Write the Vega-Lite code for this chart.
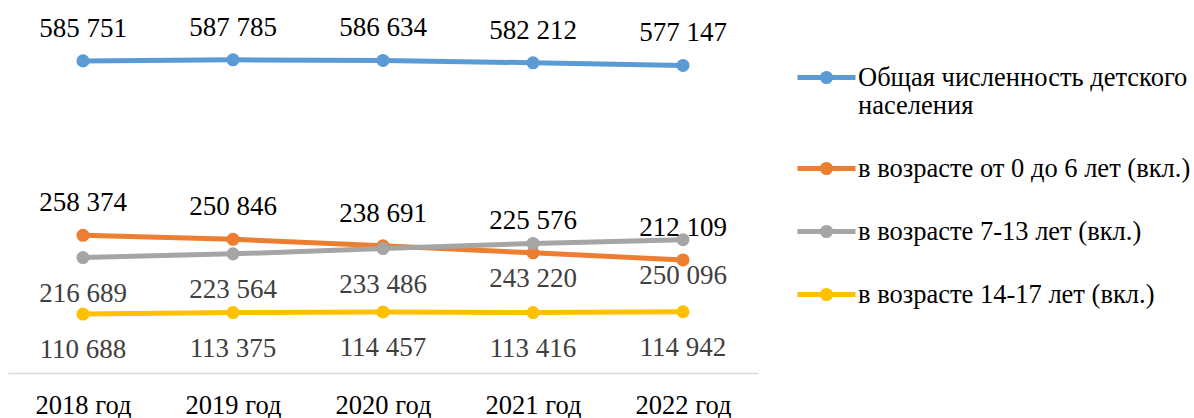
{
  "$schema": "https://vega.github.io/schema/vega-lite/v6.json",
  "width": 750,
  "height": 373,
  "autosize": {"type": "none"},
  "padding": {"left": 8, "top": 0, "right": 436, "bottom": 45},
  "config": {
    "view": {"stroke": null},
    "locale": {"number": {"decimal": ",", "thousands": " ", "grouping": [3], "currency": ["", ""]}}
  },
  "data": {
    "values": [
      {"year": "2018 год", "series": "Общая численность детского населения", "value": 585751},
      {"year": "2019 год", "series": "Общая численность детского населения", "value": 587785},
      {"year": "2020 год", "series": "Общая численность детского населения", "value": 586634},
      {"year": "2021 год", "series": "Общая численность детского населения", "value": 582212},
      {"year": "2022 год", "series": "Общая численность детского населения", "value": 577147},
      {"year": "2018 год", "series": "в возрасте от 0 до 6 лет (вкл.)", "value": 258374},
      {"year": "2019 год", "series": "в возрасте от 0 до 6 лет (вкл.)", "value": 250846},
      {"year": "2020 год", "series": "в возрасте от 0 до 6 лет (вкл.)", "value": 238691},
      {"year": "2021 год", "series": "в возрасте от 0 до 6 лет (вкл.)", "value": 225576},
      {"year": "2022 год", "series": "в возрасте от 0 до 6 лет (вкл.)", "value": 212109},
      {"year": "2018 год", "series": "в возрасте 7-13 лет (вкл.)", "value": 216689},
      {"year": "2019 год", "series": "в возрасте 7-13 лет (вкл.)", "value": 223564},
      {"year": "2020 год", "series": "в возрасте 7-13 лет (вкл.)", "value": 233486},
      {"year": "2021 год", "series": "в возрасте 7-13 лет (вкл.)", "value": 243220},
      {"year": "2022 год", "series": "в возрасте 7-13 лет (вкл.)", "value": 250096},
      {"year": "2018 год", "series": "в возрасте 14-17 лет (вкл.)", "value": 110688},
      {"year": "2019 год", "series": "в возрасте 14-17 лет (вкл.)", "value": 113375},
      {"year": "2020 год", "series": "в возрасте 14-17 лет (вкл.)", "value": 114457},
      {"year": "2021 год", "series": "в возрасте 14-17 лет (вкл.)", "value": 113416},
      {"year": "2022 год", "series": "в возрасте 14-17 лет (вкл.)", "value": 114942}
    ]
  },
  "encoding": {
    "x": {
      "field": "year", "type": "ordinal",
      "scale": {"type": "point", "padding": 0.5},
      "axis": {
        "title": null, "labelAngle": 0, "ticks": false,
        "domainColor": "#d9d9d9", "domainWidth": 1.5,
        "labelFont": "Liberation Serif", "labelFontSize": 26.5, "labelColor": "#000000",
        "labelPadding": 19
      }
    },
    "y": {
      "field": "value", "type": "quantitative",
      "scale": {"domain": [0, 700000], "nice": false},
      "axis": null
    }
  },
  "layer": [
    {
      "mark": {"type": "line", "strokeWidth": 5},
      "encoding": {
        "color": {
          "field": "series", "type": "nominal",
          "scale": {
            "domain": ["Общая численность детского населения", "в возрасте от 0 до 6 лет (вкл.)", "в возрасте 7-13 лет (вкл.)", "в возрасте 14-17 лет (вкл.)"],
            "range": ["#5B9BD5", "#ED7D31", "#A5A5A5", "#FFC000"]
          },
          "legend": {
            "title": null,
            "orient": "none",
            "legendX": 787,
            "legendY": 46,
            "symbolType": "M-1,0L1,0M-0.14,0A0.14,0.14,0,1,1,0.14,0A0.14,0.14,0,1,1,-0.14,0Z",
            "symbolSize": 3364,
            "symbolStrokeWidth": 5,
            "symbolOffset": 0,
            "labelOffset": 0,
            "labelFont": "Liberation Serif",
            "labelFontSize": 26.5,
            "labelColor": "#000000",
            "labelLimit": 400,
            "rowPadding": 17,
            "labelExpr": "datum.label === 'Общая численность детского населения' ? ['Общая численность детского', 'населения'] : datum.label"
          }
        },
        "detail": {"field": "series"}
      }
    },
    {
      "mark": {"type": "point", "filled": true, "size": 170, "opacity": 1},
      "encoding": {
        "color": {"field": "series", "type": "nominal", "legend": null}
      }
    },
    {
      "transform": [{"filter": "datum.series === 'Общая численность детского населения' || datum.series === 'в возрасте от 0 до 6 лет (вкл.)'"}],
      "mark": {"type": "text", "font": "Liberation Serif", "fontSize": 27, "color": "#000000", "dy": -24, "baseline": "alphabetic"},
      "encoding": {"text": {"field": "value", "type": "quantitative", "format": ",d"}}
    },
    {
      "transform": [{"filter": "datum.series === 'в возрасте 7-13 лет (вкл.)' || datum.series === 'в возрасте 14-17 лет (вкл.)'"}],
      "mark": {"type": "text", "font": "Liberation Serif", "fontSize": 27, "color": "#404040", "dy": 44, "baseline": "alphabetic"},
      "encoding": {"text": {"field": "value", "type": "quantitative", "format": ",d"}}
    }
  ]
}
